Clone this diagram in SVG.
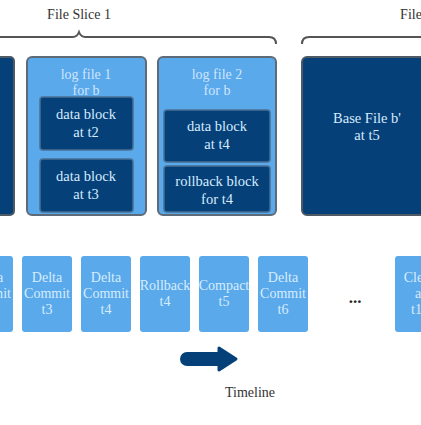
<svg xmlns="http://www.w3.org/2000/svg" width="421" height="425" viewBox="0 0 421 425">
<style>
text{font-family:"Liberation Serif","DejaVu Serif",serif;text-anchor:middle}
.lbl{font-size:14px;fill:#333}
.outerL{fill:#5aa9ea;stroke:#5d6b78;stroke-width:2}
.outerD{fill:#064079;stroke:#4d5a66;stroke-width:2}
.inner{fill:#054078;stroke:#4a6f92;stroke-width:1.5}
.step{fill:#5aa9ea}
.tl{font-size:14px;fill:#cfe6ff}
.td{font-size:14.5px;fill:#d6ebff}
.ts{font-size:14px;fill:#d7ecff}
.brace{fill:none;stroke:#555;stroke-width:2}
</style>
<g id="labels">
<text class="lbl" x="79" y="19">File Slice 1</text>
<text class="lbl" x="411" y="19">File</text>
<text class="lbl" x="250" y="397">Timeline</text>
<text x="355" y="303" style="font-size:17px;font-weight:bold;fill:#222">...</text>
</g>
<g id="connectors">
<path class="brace" d="M0 37 H73 Q77 37 79 32 Q81 37 85 37 H269 Q276 37 276 44"/>
<path class="brace" d="M302 44 Q302 37 309 37 H421"/>
<path d="M187 359 H221" stroke="#054078" stroke-width="14" stroke-linecap="round" fill="none"/>
<path d="M219 348 L236 359 L219 370 Z" fill="#054078" stroke="#054078" stroke-width="3" stroke-linejoin="round"/>
</g>
<g id="base-b-left"><rect class="outerD" x="-10" y="57" width="24" height="158" rx="4"/></g>
<g id="logfile1">
<rect class="outerL" x="27" y="57" width="119" height="158" rx="5"/>
<text class="tl" x="86" y="79">log file 1</text>
<text class="tl" x="86" y="95">for b</text>
</g>
<g id="block-t2"><rect class="inner" x="40" y="97" width="93" height="53" rx="3"/><text class="td" x="86" y="119">data block</text><text class="td" x="86" y="137">at t2</text></g>
<g id="block-t3"><rect class="inner" x="40" y="159" width="93" height="53" rx="3"/><text class="td" x="86" y="181">data block</text><text class="td" x="86" y="199">at t3</text></g>
<g id="logfile2">
<rect class="outerL" x="158" y="57" width="118" height="158" rx="5"/>
<text class="tl" x="217" y="79">log file 2</text>
<text class="tl" x="217" y="95">for b</text>
</g>
<g id="block-t4"><rect class="inner" x="164" y="110" width="106" height="52" rx="3"/><text class="td" x="217" y="131">data block</text><text class="td" x="217" y="149">at t4</text></g>
<g id="rollback-t4"><rect class="inner" x="164" y="166" width="106" height="46" rx="3"/><text class="td" x="217" y="186">rollback block</text><text class="td" x="217" y="204">for t4</text></g>
<g id="basefile-b2">
<rect class="outerD" x="302" y="57" width="130" height="158" rx="5"/>
<text class="td" x="367" y="123">Base File b'</text>
<text class="td" x="367" y="140">at t5</text>
</g>
<g id="step0"><rect class="step" x="-37" y="256" width="50" height="76" rx="3"/><text class="ts" x="-12" y="282">Delta</text><text class="ts" x="-12" y="298">Commit</text></g>
<g id="step-t3"><rect class="step" x="22" y="256" width="50" height="76" rx="3"/><text class="ts" x="47" y="282">Delta</text><text class="ts" x="47" y="298">Commit</text><text class="ts" x="47" y="314">t3</text></g>
<g id="step-t4"><rect class="step" x="81" y="256" width="50" height="76" rx="3"/><text class="ts" x="106" y="282">Delta</text><text class="ts" x="106" y="298">Commit</text><text class="ts" x="106" y="314">t4</text></g>
<g id="step-rb"><rect class="step" x="140" y="256" width="50" height="76" rx="3"/><text class="ts" x="165" y="290">Rollback</text><text class="ts" x="165" y="306">t4</text></g>
<g id="step-cp"><rect class="step" x="199" y="256" width="50" height="76" rx="3"/><text class="ts" x="224" y="290">Compact</text><text class="ts" x="224" y="306">t5</text></g>
<g id="step-t6"><rect class="step" x="258" y="256" width="50" height="76" rx="3"/><text class="ts" x="283" y="282">Delta</text><text class="ts" x="283" y="298">Commit</text><text class="ts" x="283" y="314">t6</text></g>
<g id="step-clean"><rect class="step" x="395" y="256" width="50" height="76" rx="3"/><text class="ts" x="420" y="282">Clean</text><text class="ts" x="420" y="298">at</text><text class="ts" x="420" y="314">t10</text></g>
</svg>
